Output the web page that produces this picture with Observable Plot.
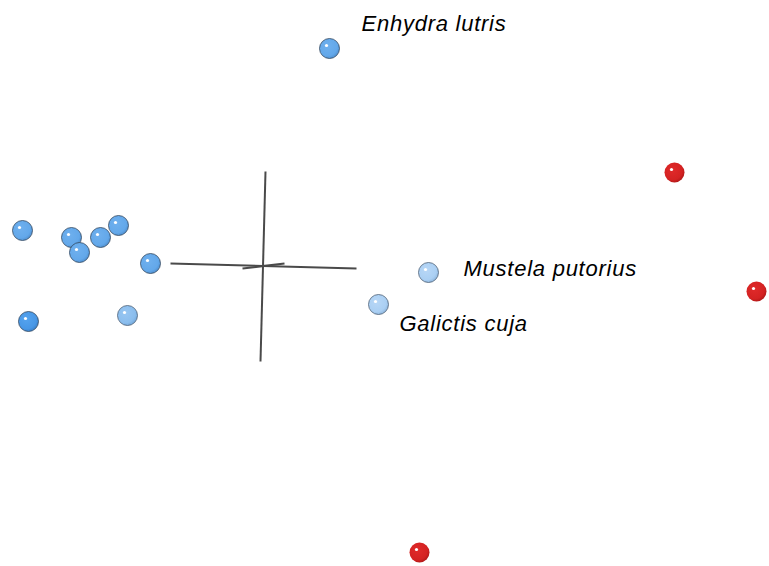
<!DOCTYPE html>
<html>
<head>
<meta charset="utf-8">
<script src="https://cdn.jsdelivr.net/npm/d3@7"></script>
<script src="https://cdn.jsdelivr.net/npm/@observablehq/plot@0.6"></script>
<style>
  html, body { margin: 0; padding: 0; background: #fff; }
  svg { display: block; }
</style>
</head>
<body>
<div id="chart"></div>
<script>
// Projected positions of the species (screen-space projection of the 3D scatter)
const pointX = [329, 674, 756, 419, 22, 71, 79, 100, 118, 150, 28, 127, 428, 378];
const pointY = [48, 172, 291, 552, 230, 237, 252, 237, 225, 263, 321, 315, 272, 304];
const pointGroup = ["mid", "red", "red", "red", "mid", "mid", "mid", "mid", "mid", "mid", "dark", "pale", "light", "light"];

// Axis cross (projected 3D axes)
const axisX1 = [265, 170, 242];
const axisY1 = [171, 263, 268];
const axisX2 = [260, 356, 284];
const axisY2 = [361, 268, 263];

// Labels
const labelText = ["Enhydra lutris", "Mustela putorius", "Galictis cuja"];
const labelX = [361, 463, 399];
const labelY = [23, 268, 323];

const points = pointX.map((x, i) => ({x, y: pointY[i], g: pointGroup[i]}));
const axes = axisX1.map((x1, i) => ({x1, y1: axisY1[i], x2: axisX2[i], y2: axisY2[i]}));
const labels = labelText.map((t, i) => ({t, x: labelX[i], y: labelY[i]}));

const fills = {mid: "url(#gMid)", dark: "url(#gDark)", pale: "url(#gPale)", light: "url(#gLight)", red: "url(#gRed)"};
const strokes = {mid: "#33475e", dark: "#33475e", pale: "#4d6075", light: "#4d6075", red: "none"};

const plot = Plot.plot({
  width: 769,
  height: 566,
  margin: 0,
  x: {domain: [0, 769], axis: null},
  y: {domain: [566, 0], axis: null},
  style: {background: "#fff"},
  marks: [
    Plot.link(axes, {x1: "x1", y1: "y1", x2: "x2", y2: "y2", stroke: "#4a4a4a", strokeWidth: 2}),
    Plot.dot(points, {x: "x", y: "y", r: 10, fill: d => fills[d.g], stroke: d => strokes[d.g], strokeWidth: 0.8}),
    Plot.dot(points, {x: "x", y: "y", r: 1.6, dx: -3, dy: -3, fill: "#fff", stroke: "none"}),
    Plot.text(labels, {x: "x", y: "y", text: "t", textAnchor: "start", fontSize: 22, fontStyle: "italic", fill: "#000", fontFamily: "Liberation Sans, Arial, sans-serif"})
  ]
});

d3.select(plot).selectAll("text").style("letter-spacing", "0.75px");

// sphere shading gradients
const svg = d3.select(plot);
const defs = svg.insert("defs", ":first-child");
function grad(id, inner, outer, edge) {
  const g = defs.append("radialGradient").attr("id", id).attr("cx", "40%").attr("cy", "38%").attr("r", "65%");
  g.append("stop").attr("offset", "0%").attr("stop-color", inner);
  g.append("stop").attr("offset", "75%").attr("stop-color", outer);
  g.append("stop").attr("offset", "100%").attr("stop-color", edge);
}
grad("gMid", "#6fb0ee", "#63a8ea", "#4f8fcf");
grad("gDark", "#55a3ee", "#4897e6", "#3a80c8");
grad("gPale", "#98c6f2", "#8abded", "#72a6d8");
grad("gLight", "#b8d7f6", "#aacff3", "#8eb5dc");
grad("gRed", "#e02a2a", "#d42222", "#b01818");

document.getElementById("chart").appendChild(plot);
</script>
</body>
</html>
